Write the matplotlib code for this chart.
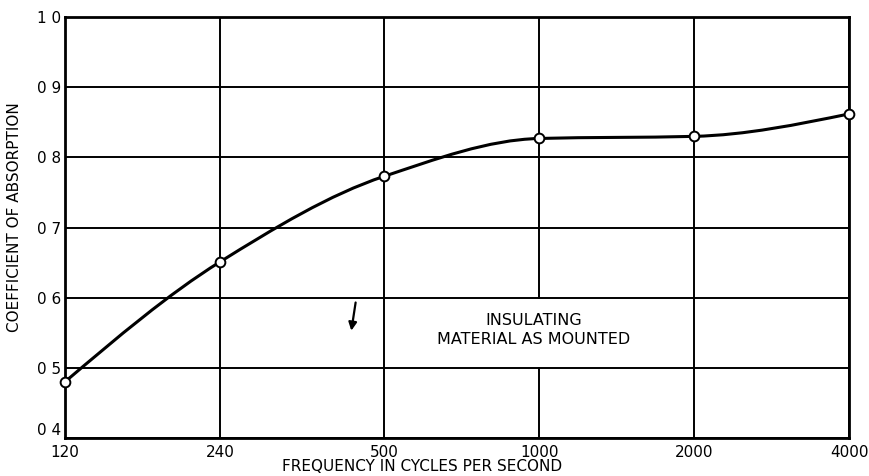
import numpy as np
import matplotlib
matplotlib.use('Agg')
from matplotlib import pyplot as plt
from matplotlib.path import Path
from matplotlib.patches import PathPatch, Rectangle


# values
freq = [120, 240, 500, 1000, 2000, 4000]
coeff = [0.48, 0.651, 0.773, 0.827, 0.830, 0.862]
x_ticks = [120, 240, 500, 1000, 2000, 4000]
x_tick_labels = ['120', '240', '500', '1000', '2000', '4000']
y_ticks = [0.4, 0.5, 0.6, 0.7, 0.8, 0.9, 1.0]
y_tick_labels = ['0 4', '0 5', '0 6', '0 7', '0 8', '0 9', '1 0']


fig = plt.figure(figsize=(8.7, 4.76), dpi=100)
ax = fig.add_axes([0.0747, 0.080, 0.9013, 0.884])

ax.set_xscale('log')
ax.set_xlim(120, 4000)
ax.set_ylim(0.4, 1.0)


#___ smooth curve: bezier segments through the points (drawn in log-x space)___
u = np.log10(freq)
y = np.array(coeff)
h = np.diff(u)
d = np.diff(y) / h
m = np.zeros(len(y))
for i in range(1, len(y) - 1):
    if d[i - 1] * d[i] > 0:
        m[i] = 2 * d[i - 1] * d[i] / (d[i - 1] + d[i])
m[0] = (3 * d[0] - m[1]) / 2
m[-1] = (3 * d[-1] - m[-2]) / 2

verts = [(freq[0], y[0])]
codes = [Path.MOVETO]
for i in range(len(y) - 1):
    c1 = (10 ** (u[i] + h[i] / 3), y[i] + m[i] * h[i] / 3)
    c2 = (10 ** (u[i + 1] - h[i] / 3), y[i + 1] - m[i + 1] * h[i] / 3)
    verts += [c1, c2, (freq[i + 1], y[i + 1])]
    codes += [Path.CURVE4] * 3
curve = PathPatch(Path(verts, codes), facecolor='none', edgecolor='black',
                  lw=2.2, transform=ax.transData, zorder=3)
ax.add_patch(curve)

# open circles on the measured points
ax.plot(freq, coeff, 'o', ms=7, mfc='white', mec='black', mew=1.4,
        zorder=4, clip_on=False)


#___ grid and frame ___
ax.set_xticks(x_ticks)
ax.set_xticklabels(x_tick_labels)
ax.xaxis.set_minor_locator(matplotlib.ticker.NullLocator())
ax.set_yticks(y_ticks)
ax.set_yticklabels(y_tick_labels)
ax.grid(True, color='black', lw=1.4)
ax.set_axisbelow(True)
ax.tick_params(length=0, labelsize=11)
ax.tick_params(axis='x', pad=5)
ax.tick_params(axis='y', pad=3)
ax.get_yticklabels()[0].set_va('bottom')   # lift "0 4" off the x labels
for s in ax.spines.values():
    s.set_linewidth(2)

# white patch behind the note hides the 1000 grid line there
ax.add_patch(Rectangle((560, 0.5015), 3000 - 1620, 0.097, facecolor='white',
                       edgecolor='none', zorder=1.5))
ax.text(975, 0.554, 'INSULATING\nMATERIAL AS MOUNTED', ha='center',
        va='center', fontsize=11.5, linespacing=1.3, zorder=2)

# little arrow
ax.annotate('', xy=(431, 0.549), xytext=(441, 0.597),
            arrowprops=dict(arrowstyle='-|>', color='black', lw=1.6,
                            mutation_scale=12), zorder=2)

ax.set_xlabel('FREQUENCY IN CYCLES PER SECOND', fontsize=11)
ax.xaxis.set_label_coords(0.455, -0.05)
ax.set_ylabel('COEFFICIENT OF ABSORPTION', fontsize=11)
ax.yaxis.set_label_coords(-0.055, 0.525)

fig.savefig('out.png', dpi=100)
